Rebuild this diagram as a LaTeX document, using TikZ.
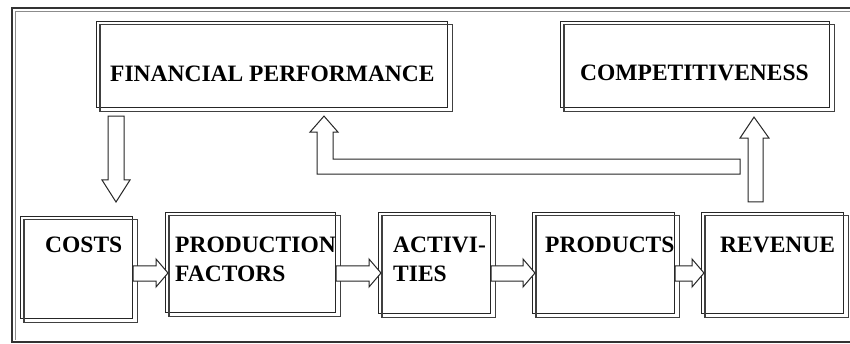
\documentclass[tikz,border=0pt]{standalone}
\usepackage{fontspec}
\setmainfont{Liberation Serif}
\usetikzlibrary{calc}
\tikzset{
  boxA/.style={draw=black!85, line width=1.1pt, inner sep=0pt, anchor=north west},
  shadowline/.style={draw=black!75, line width=1.1pt},
  lbl/.style={inner sep=0pt, anchor=north west, align=left, font=\fontsize{23.5}{29}\selectfont\bfseries},
  arr/.style={draw=black!85, fill=white, line width=1pt, line join=miter},
  frameline/.style={draw=black!80, line width=1.2pt},
  frameinner/.style={draw=black!45, line width=1.4pt}
}
\newcommand{\HArrowDraw}[2]{%
  \draw[arr] let \p1=(#1.east), \p2=(#2.west) in
    (\x1,-266pt) -- (\x2-9pt,-266pt) -- (\x2-9pt,-259pt) -- (\x2+3pt,-273pt)
    -- (\x2-9pt,-287pt) -- (\x2-9pt,-281pt) -- (\x1,-281pt) -- cycle;}
\newcommand{\ShadowBox}[1]{%
  \draw[shadowline] ($(#1.north west)+(4,3.5)$) rectangle ($(#1.south east)+(4,3.5)$);}
\begin{document}
\begin{tikzpicture}[x=1pt,y=-1pt]
\useasboundingbox (0,0) rectangle (850,344);
% frame
\draw[frameinner] (850,11.5) -- (15.5,11.5) -- (15.5,340);
\draw[frameline] (850,8) -- (12,8) -- (12,342) -- (850,342);

% boxes
\node[boxA, minimum width=351pt, minimum height=86pt] (fin) at (96,21) {};
\node[boxA, minimum width=269pt, minimum height=86pt] (comp) at (560,21) {};
\node[boxA, minimum width=112pt, minimum height=102pt] (costs) at (20,216) {};
\node[boxA, minimum width=170pt, minimum height=100pt] (pf) at (165,212) {};
\node[boxA, minimum width=112pt, minimum height=101pt] (act) at (378,212) {};
\node[boxA, minimum width=142pt, minimum height=101pt] (prod) at (532,212) {};
\node[boxA, minimum width=142pt, minimum height=101pt] (rev) at (701,212) {};
\ShadowBox{fin}
\ShadowBox{comp}
\ShadowBox{costs}
\ShadowBox{pf}
\ShadowBox{act}
\ShadowBox{prod}
\ShadowBox{rev}

% labels
\node[lbl] (tfin) at (110,66) {FINANCIAL PERFORMANCE};
\node[lbl] (tcomp) at (580,65) {COMPETITIVENESS};
\node[lbl] (tcosts) at (45,237) {COSTS};
\node[lbl] (tpf) at (175,237) {PRODUCTION\\FACTORS};
\node[lbl] (tact) at (393,237) {ACTIVI-\\TIES};
\node[lbl] (tprod) at (545,237) {PRODUCTS};
\node[lbl] (trev) at (720,237) {REVENUE};

% horizontal arrows
\HArrowDraw{costs}{pf}
\HArrowDraw{pf}{act}
\HArrowDraw{act}{prod}
\HArrowDraw{prod}{rev}

% down arrow: financial performance -> costs
\draw[arr] let \p1=(fin.south west), \p2=(costs.north) in
  (\x1+12pt,\y1-8pt) -- (\x1+28pt,\y1-8pt) -- (\x1+28pt,\y2+36pt) -- (\x1+34pt,\y2+36pt)
  -- (\x1+20pt,\y2+14pt) -- (\x1+6pt,\y2+36pt) -- (\x1+12pt,\y2+36pt) -- cycle;

% up arrow: revenue -> competitiveness
\draw[arr] let \p1=(comp.south west), \p2=(rev.north) in
  (748pt,\y2+10pt) -- (748pt,\y1-30pt) -- (740pt,\y1-30pt) -- (754pt,\y1-9pt)
  -- (769pt,\y1-30pt) -- (763pt,\y1-30pt) -- (763pt,\y2+10pt) -- cycle;

% L-shaped arrow to financial performance
\draw[arr] let \p1=(fin.south west), \p2=(comp.south west) in
  (\x1+221pt,\y1-66pt) -- (\x1+221pt,\y1-24pt) -- (\x1+214pt,\y1-24pt) -- (\x1+228pt,\y1-8pt)
  -- (\x1+242pt,\y1-24pt) -- (\x1+237pt,\y1-24pt) -- (\x1+237pt,\y1-51pt)
  -- (\x2+180pt,\y1-51pt) -- (\x2+180pt,\y1-66pt) -- cycle;
\end{tikzpicture}
\end{document}
